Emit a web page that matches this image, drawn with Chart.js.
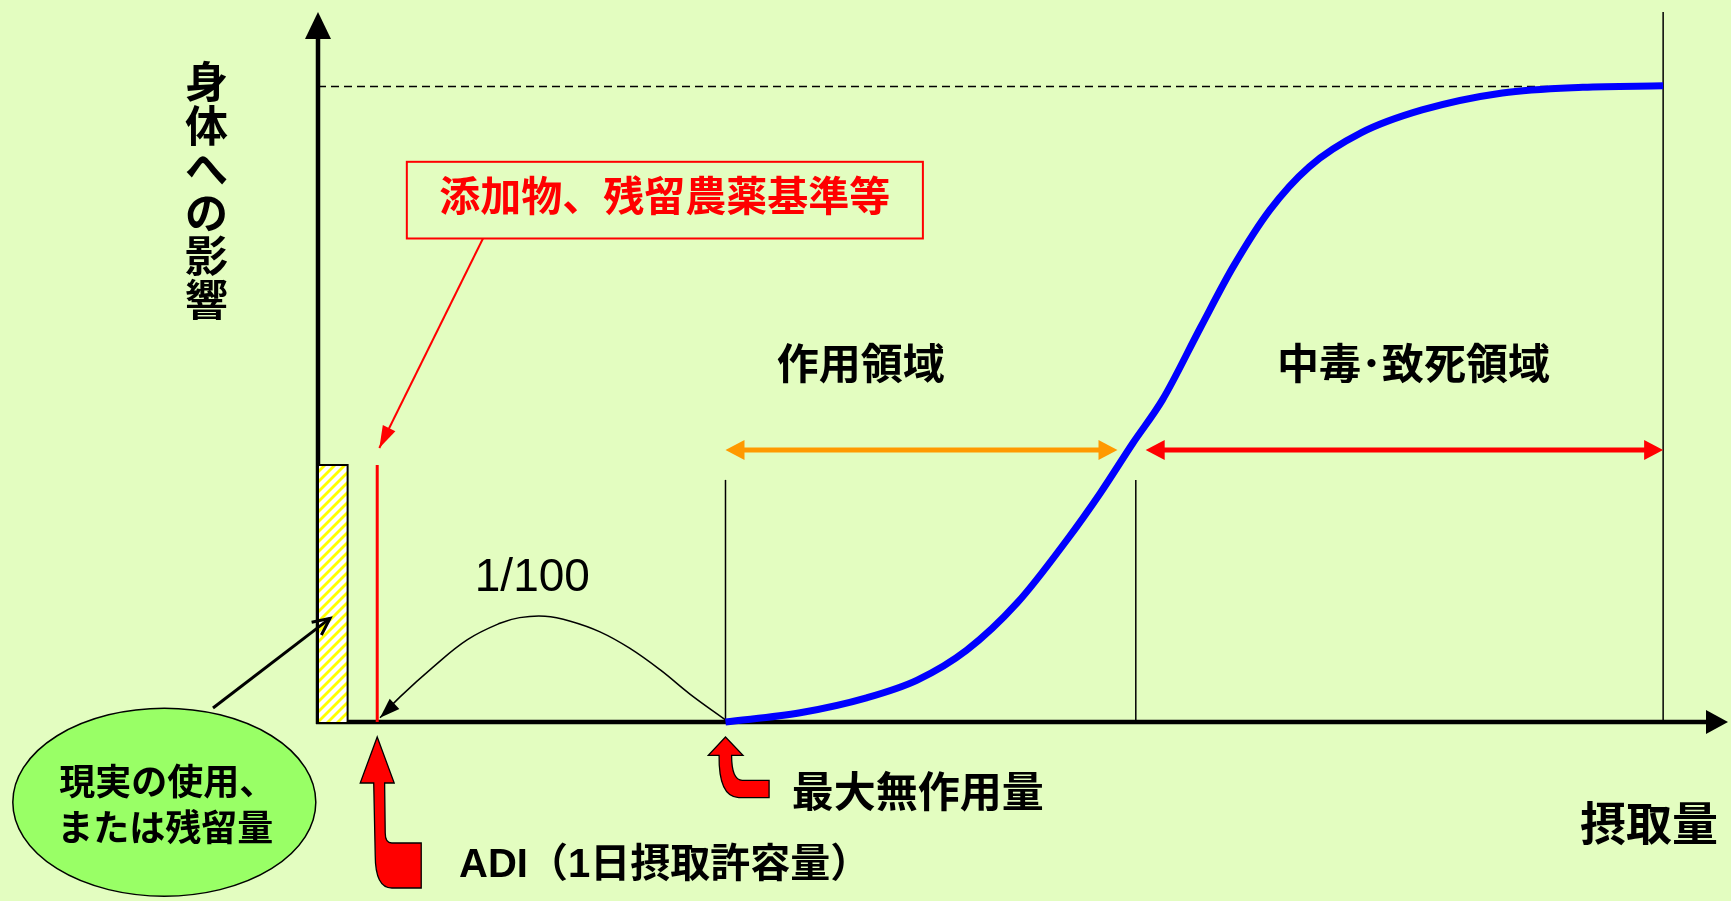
<!DOCTYPE html>
<html lang="ja">
<head>
<meta charset="utf-8">
<title>ADIと摂取量</title>
<script src="https://cdn.jsdelivr.net/npm/chart.js@4.4.1/dist/chart.umd.min.js"></script>
<style>
  html, body { margin: 0; padding: 0; background: #e3fdc0; }
  #wrap { width: 1731px; height: 901px; }
</style>
</head>
<body>
<div id="wrap"><canvas id="chart" width="1731" height="901"></canvas></div>
<script>
// dose-response curve (x: 摂取量, y: 身体への影響)
const doseX   = [28.9, 34.2, 38.9, 42.5, 46.0, 49.6, 53.1, 55.5, 57.8, 59.9, 62.6, 64.9, 67.5, 70.3, 74.0, 78.3, 84.0, 89.7, 95.4];
const effectY = [0, 1.3, 3.4, 5.9, 10.1, 16.8, 25.6, 32.3, 39.3, 45.4, 55.6, 64.1, 72.1, 78.2, 83.0, 86.2, 88.6, 89.4, 89.6];

// the 1/100 arc from 最大無作用量 down to ADI
const arcX = [28.9, 26.4, 24.3, 22.1, 20.0, 17.9, 16.1, 14.3, 12.9, 10.6, 8.2, 5.8, 4.4];
const arcY = [0.3, 3.9, 7.3, 10.4, 12.7, 14.2, 14.9, 14.7, 13.9, 11.6, 7.8, 3.5, 0.6];

// marker doses and levels
const residue     = [2.1, 36.2];   // 現実の使用量: width, height
const adiLine     = [4.2, 36.2];   // ADI: dose, height
const boundaries  = [28.9, 58.0];  // 最大無作用量, start of 中毒域
const boundaryTop = 34.1;
const doseEnd     = 95.4;
const maxEffect   = 89.5;
const effectRange = [28.9, 56.7];
const toxicRange  = [58.7, 95.4];
const rangeLevel  = 38.3;

const CJK = '"Liberation Sans", "Noto Sans CJK JP", sans-serif';

function pts(xs, ys) {
    return xs.map((x, i) => ({ x: x, y: ys[i] }));
}

function hatch() {
    const c = document.createElement('canvas');
    c.width = 10; c.height = 10;
    const g = c.getContext('2d');
    g.fillStyle = '#ffffff';
    g.fillRect(0, 0, 10, 10);
    g.strokeStyle = '#ffff00';
    g.lineWidth = 2.8;
    [[-10, 10, 10, -10], [0, 10, 10, 0], [0, 20, 20, 0]].forEach(l => {
        g.beginPath(); g.moveTo(l[0], l[1]); g.lineTo(l[2], l[3]); g.stroke();
    });
    return g.createPattern(c, 'repeat');
}

function head(ctx, x1, y1, x2, y2, len, half, color) {
    const a = Math.atan2(y2 - y1, x2 - x1);
    ctx.save();
    ctx.translate(x2, y2);
    ctx.rotate(a);
    ctx.beginPath();
    ctx.moveTo(0, 0);
    ctx.lineTo(-len, -half);
    ctx.lineTo(-len, half);
    ctx.closePath();
    ctx.fillStyle = color;
    ctx.fill();
    ctx.restore();
}

function doubleArrow(ctx, xa, xb, y, color) {
    ctx.save();
    ctx.strokeStyle = color;
    ctx.lineWidth = 5;
    ctx.beginPath();
    ctx.moveTo(xa + 15, y);
    ctx.lineTo(xb - 15, y);
    ctx.stroke();
    ctx.restore();
    head(ctx, xb, y, xa, y, 19, 10, color);
    head(ctx, xa, y, xb, y, 19, 10, color);
}

function text(ctx, str, x, y, size, weight, color, align) {
    ctx.save();
    ctx.font = weight + ' ' + size + 'px ' + CJK;
    ctx.fillStyle = color || '#000';
    ctx.textAlign = align || 'center';
    ctx.textBaseline = 'middle';
    ctx.fillText(str, x, y);
    ctx.restore();
}

// red block arrows pointing up at the axis (offsets from the tip, px)
function bigArrow(ctx, x, y) {
    ctx.save();
    ctx.translate(x, y);
    ctx.beginPath();
    ctx.moveTo(0, 0);
    ctx.lineTo(17, 46);
    ctx.lineTo(7.4, 46);
    ctx.lineTo(8, 96);
    ctx.quadraticCurveTo(8, 106, 14.6, 106);
    ctx.lineTo(44, 106);
    ctx.lineTo(44, 151);
    ctx.lineTo(14.6, 151);
    ctx.quadraticCurveTo(-2, 151, -2, 118);
    ctx.lineTo(-3.5, 46);
    ctx.lineTo(-17, 46);
    ctx.closePath();
    ctx.fillStyle = '#ff0000';
    ctx.fill();
    ctx.lineWidth = 1.3;
    ctx.strokeStyle = '#000';
    ctx.stroke();
    ctx.restore();
}

function smallArrow(ctx, x, y) {
    ctx.save();
    ctx.translate(x, y);
    ctx.beginPath();
    ctx.moveTo(0, 0);
    ctx.lineTo(17.5, 18.3);
    ctx.lineTo(6.1, 18.3);
    ctx.quadraticCurveTo(6.1, 43.3, 16.8, 43.3);
    ctx.lineTo(43.6, 43.3);
    ctx.lineTo(43.6, 60.6);
    ctx.lineTo(13.2, 60.6);
    ctx.quadraticCurveTo(-7, 60, -6.4, 18.3);
    ctx.lineTo(-17.2, 18.3);
    ctx.closePath();
    ctx.fillStyle = '#ff0000';
    ctx.fill();
    ctx.lineWidth = 1.3;
    ctx.strokeStyle = '#000';
    ctx.stroke();
    ctx.restore();
}

const diagram = {
    id: 'diagram',
    beforeDatasetsDraw(chart) {
        const ctx = chart.ctx;
        const sx = chart.scales.x, sy = chart.scales.y;
        const x0 = sx.getPixelForValue(0), y0 = sy.getPixelForValue(0);
        const top = sy.getPixelForValue(100), right = sx.getPixelForValue(100);
        ctx.save();
        ctx.strokeStyle = '#000';
        ctx.lineWidth = 4.5;
        ctx.beginPath();
        ctx.moveTo(x0, y0 + 2);
        ctx.lineTo(x0, top + 20);
        ctx.moveTo(x0 - 2, y0);
        ctx.lineTo(right - 18, y0);
        ctx.stroke();
        ctx.restore();
        head(ctx, x0, y0, x0, top, 27, 13, '#000');
        head(ctx, x0, y0, right, y0, 22, 12, '#000');
    },
    afterDatasetsDraw(chart) {
        const ctx = chart.ctx;
        const sx = chart.scales.x, sy = chart.scales.y;
        const px = v => sx.getPixelForValue(v), py = v => sy.getPixelForValue(v);

        // arrowhead of the 1/100 arc
        const n = arcX.length;
        head(ctx, px(arcX[n - 3]), py(arcY[n - 3]), px(arcX[n - 1]), py(arcY[n - 1]), 20, 7, '#000');

        // range arrows
        doubleArrow(ctx, px(effectRange[0]), px(effectRange[1]), py(rangeLevel), '#ff9900');
        doubleArrow(ctx, px(toxicRange[0]), px(toxicRange[1]), py(rangeLevel), '#ff0000');

        // standards box and leader
        const bx1 = px(6.3), bx2 = px(42.9), by1 = py(78.9), by2 = py(68.1);
        ctx.save();
        ctx.strokeStyle = '#ff0000';
        ctx.lineWidth = 2;
        ctx.strokeRect(bx1, by1, bx2 - bx1, by2 - by1);
        const lx1 = px(11.7), ly1 = by2, lx2 = px(adiLine[0] + 0.15), ly2 = py(adiLine[1] + 2.4);
        ctx.beginPath();
        ctx.moveTo(lx1, ly1);
        ctx.lineTo(lx2, ly2);
        ctx.stroke();
        ctx.restore();
        head(ctx, lx1, ly1, lx2, ly2, 22, 7, '#ff0000');
        text(ctx, '添加物、残留農薬基準等', (bx1 + bx2) / 2, (by1 + by2) / 2, 41, 'bold', '#ff0000');

        text(ctx, '1/100', px(15.2), py(20.2), 46, 'normal', '#000');
        text(ctx, '作用領域', px(38.5), py(49.9), 42, 'bold', '#000');
        text(ctx, '中毒･致死領域', px(77.7), py(49.9), 42, 'bold', '#000');
    },
    afterDraw(chart) {
        const ctx = chart.ctx;
        const sx = chart.scales.x, sy = chart.scales.y;
        const px = v => sx.getPixelForValue(v), py = v => sy.getPixelForValue(v);

        // y axis title, written top to bottom
        const title = '身体への影響';
        for (let i = 0; i < title.length; i++) {
            text(ctx, title[i], px(-7.9), py(maxEffect) + i * 43.5, 43, 'bold', '#000');
        }
        text(ctx, '摂取量', px(94.4), py(-14.9), 46, 'bold', '#000');

        // ellipse callout pointing at the residue bar
        const ex = px(-10.9), ey = py(-11.3);
        ctx.save();
        ctx.beginPath();
        ctx.moveTo(213, 708);
        const ax = px(0.85), ay = py(14.6);
        ctx.lineTo(ax, ay);
        ctx.strokeStyle = '#000';
        ctx.lineWidth = 3;
        ctx.stroke();
        const a = Math.atan2(ay - 708, ax - 213);
        ctx.translate(ax, ay);
        ctx.rotate(a);
        ctx.beginPath();
        ctx.moveTo(-17, -8);
        ctx.lineTo(0, 0);
        ctx.lineTo(-17, 8);
        ctx.stroke();
        ctx.restore();

        ctx.save();
        ctx.beginPath();
        ctx.ellipse(ex, ey, 151.5, 94, 0, 0, Math.PI * 2);
        ctx.fillStyle = '#99ff66';
        ctx.fill();
        ctx.lineWidth = 1.5;
        ctx.strokeStyle = '#000';
        ctx.stroke();
        ctx.restore();
        text(ctx, '現実の使用、', ex + 3, ey - 17, 36, 'bold', '#000');
        text(ctx, 'または残留量', ex + 1, ey + 29, 36, 'bold', '#000');

        // ADI and 最大無作用量 pointers
        bigArrow(ctx, px(adiLine[0]), py(0) + 15);
        smallArrow(ctx, px(boundaries[0]), py(0) + 15);
        text(ctx, '最大無作用量', px(33.6), py(-10.3), 42, 'bold', '#000', 'left');
        text(ctx, 'ADI（1日摂取許容量）', px(10.0), py(-20.3), 40, 'bold', '#000', 'left');
    }
};

const line = (data, color, width, extra) => Object.assign({
    data: data,
    showLine: true,
    borderColor: color,
    borderWidth: width,
    pointRadius: 0,
    fill: false,
    clip: false
}, extra || {});

new Chart(document.getElementById('chart'), {
    type: 'scatter',
    data: {
        datasets: [
            line(pts(doseX, effectY), '#0000ff', 7, { cubicInterpolationMode: 'monotone', order: 0 }),
            line(pts([0, doseEnd], [maxEffect, maxEffect]), '#000', 1.5, { borderDash: [8, 5], order: 5 }),
            line(pts([doseEnd, doseEnd], [0, 100]), '#000', 1.5, { order: 5 }),
            line(pts([boundaries[0], boundaries[0]], [0, boundaryTop]), '#000', 1.5, { order: 5 }),
            line(pts([boundaries[1], boundaries[1]], [0, boundaryTop]), '#000', 1.5, { order: 5 }),
            line(pts([adiLine[0], adiLine[0]], [0, adiLine[1]]), '#ff0000', 3, { order: 3 }),
            line(pts(arcX, arcY), '#000', 1.5, { tension: 0.4, order: 4 }),
            line(pts([0, 0, residue[0], residue[0]], [0, residue[1], residue[1], 0]), '#000', 2,
                { fill: 'origin', backgroundColor: hatch(), order: 2 })
        ]
    },
    options: {
        responsive: false,
        animation: false,
        layout: { padding: { left: 318, right: 3, top: 12, bottom: 179 } },
        scales: {
            x: { type: 'linear', min: 0, max: 100, display: false },
            y: { type: 'linear', min: 0, max: 100, display: false }
        },
        plugins: {
            legend: { display: false },
            tooltip: { enabled: false }
        }
    },
    plugins: [diagram]
});
</script>
</body>
</html>
